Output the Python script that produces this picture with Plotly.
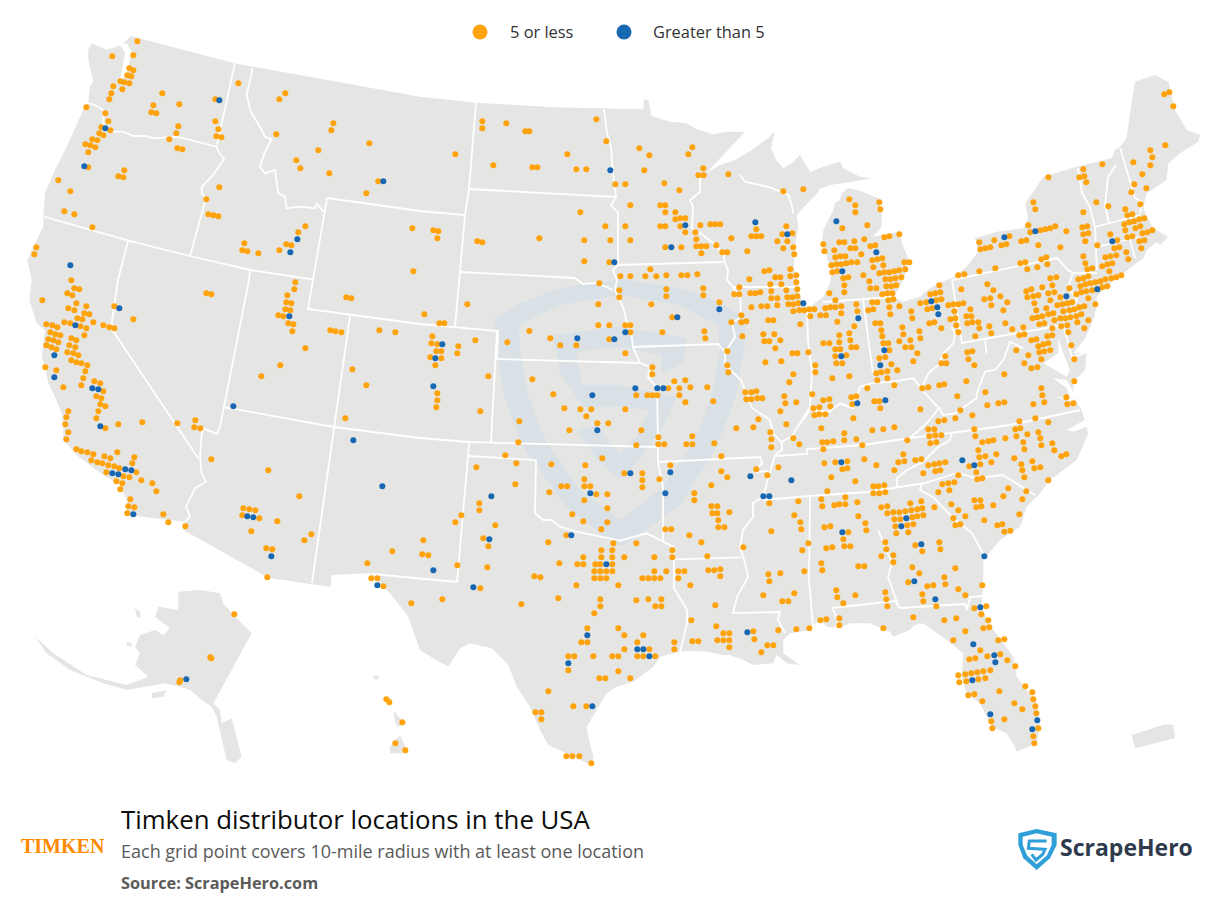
"""Timken distributor locations in the USA: dot map redrawn on a plain x/y canvas (picture pixels)."""
import plotly.graph_objects as go

COLOR_LAND = "#e5e5e4"
COLOR_MARK = "#d9e1e6"
COLOR_ORANGE = "#ffa30d"
COLOR_BLUE = "#1767b2"
COLOR_LOGO = "#2f9fd8"
FONT = "'Open Sans', Lato, sans-serif"

LEGEND_LABELS = ["5 or less", "Greater than 5"]
TITLE = "Timken distributor locations in the USA"
SUBTITLE = "Each grid point covers 10-mile radius with at least one location"
SOURCE = "Source: ScrapeHero.com"

# Grid points, read region by region from 3x views of the picture: (view x, view y).
NW_ORIGIN = (20, 30)
nw_orange = [(352,34),(277,79),(340,76),(328,115),(340,121),(322,136),(334,139),(301,154),(313,157),(328,160),(280,169),(307,178),(274,190),(268,208),(199,232),(256,250),(265,274),(244,292),(271,301),(238,310),(250,316),(217,328),(232,331),(196,343),(211,346),(226,352),(205,367),(205,412),(115,451),(151,484),(133,544),(163,553),(217,592),(49,652),(43,673),(427,190),(400,226),(394,247),(409,250),(478,223),(475,289),(469,310),(448,328),(472,355),(487,358),(313,421),(295,439),(310,442),(586,208),(586,274),(595,298),(589,319),(604,322),(655,160),(598,472),(559,508),(565,553),(580,556),(595,559),(673,640),(667,661),(682,664),(715,670),(778,661),(799,643),(814,646),(835,607),(856,589),(796,190),(778,208),(940,280),(934,301),(769,313),(895,361),(1048,340),(829,391),(841,415),(928,430),(1075,454),(1039,490),(1177,595),(1180,724)]
nw_blue = [(598,211),(256,295),(193,409),(1090,454),(832,628),(811,667),(151,706)]

NC_ORIGIN = (420, 90)
nc_orange = [(187,94),(259,100),(187,115),(316,124),(328,124),(529,88),(559,154),(106,193),(220,226),(337,232),(352,232),(442,193),(469,238),(499,238),(658,175),(688,196),(817,172),(805,193),(673,241),(850,235),(835,256),(851,256),(925,253),(586,283),(616,283),(733,280),(778,301),(1090,304),(1150,298),(631,346),(721,346),(736,346),(481,367),(736,367),(766,367),(766,388),(781,385),(796,385),(556,409),(616,409),(721,409),(736,409),(781,409),(796,427),(841,406),(871,403),(886,403),(901,403),(826,427),(829,448),(829,469),(844,469),(859,469),(844,490),(889,466),(907,487),(922,487),(934,445),(982,484),(1009,418),(994,439),(1009,439),(1024,439),(1099,409),(1087,433),(1117,430),(1072,454),(1102,454),(1090,475),(1120,472),(1123,493),(40,421),(55,424),(52,445),(172,454),(187,457),(358,445),(493,451),(571,451),(631,451),(736,472),(784,472),(493,514),(568,517),(691,538),(601,559),(631,559),(676,559),(709,559),(739,556),(784,556),(802,556),(832,553),(1111,538),(1033,544),(1048,541),(1129,556),(1111,559),(1066,562),(1081,562),(988,568),(1129,577),(1051,583),(1084,583),(538,580),(958,592),(1132,598),(1099,601),(598,601),(739,598),(850,595),(943,613),(958,613),(991,610),(1006,610),(1021,607),(1054,604),(1102,622),(1117,622),(1132,619),(1054,625),(1072,625),(598,622),(739,619),(850,616),(898,637),(1105,643),(1120,643),(1135,640),(1024,649),(1042,649),(1072,646),(994,652),(535,643),(694,643),(142,643),(1120,664),(1138,661),(1153,661),(1168,658),(1183,658),(1171,679),(964,676),(757,682),(13,673),(1045,691),(1060,691),(979,694),(964,697),(934,697),(58,700),(73,700),(1141,703),(535,706),(568,706),(616,706),(631,706)]
nc_blue = [(571,241),(796,406),(754,472),(1006,397),(1102,433),(583,517),(1150,640),(898,658),(772,682)]

NE_ORIGIN = (810, 70)
ne_orange = [(1063,73),(1078,67),(1090,109),(1066,226),(1021,241),(1027,262),(970,277),(1021,286),(877,283),(820,298),(808,322),(823,319),(829,337),(715,322),(997,313),(973,343),(1009,355),(964,367),(670,397),(859,397),(895,409),(991,403),(676,418),(820,427),(946,418),(952,436),(967,433),(1003,445),(988,448),(973,454),(958,457),(943,463),(991,469),(976,475),(946,481),(1027,481),(1012,487),(997,490),(967,499),(952,502),(901,493),(817,472),(832,469),(820,493),(835,490),(826,514),(769,484),(736,469),(721,475),(706,478),(691,481),(661,487),(655,466),(598,499),(553,511),(508,517),(649,511),(634,514),(589,523),(574,526),(541,532),(526,535),(511,538),(685,526),(751,532),(862,526),(922,511),(1003,511),(988,514),(928,532),(913,535),(994,535),(949,547),(919,556),(901,559),(886,562),(955,568),(820,559),(709,562),(694,568),(907,580),(892,583),(877,589),(826,580),(712,583),(646,577),(631,580),(847,595),(832,598),(682,592),(652,598),(556,595),(508,604),(463,613),(445,616),(898,604),(934,616),(919,622),(904,625),(886,628),(871,634),(856,637),(841,640),(826,643),(811,649),(835,619),(820,625),(805,628),(739,622),(721,625),(892,649),(877,652),(862,658),(847,661),(829,664),(814,667),(799,673),(532,643),(454,658),(550,661),(664,658),(649,664),(697,652),(727,646),(778,655),(733,667),(715,670),(670,679),(685,676),(652,682),(571,679),(523,688),(541,685),(592,697),(721,691),(751,682),(673,700),(544,706),(787,697),(772,700),(757,703),(742,706),(835,685),(856,703),(823,709),(808,712),(793,718),(778,721),(760,724),(730,730),(715,733),(697,739),(682,742),(667,745),(814,733),(799,739),(781,742),(766,745),(751,745),(709,715),(679,721),(580,721),(481,718),(469,739),(484,739),(433,724),(415,706),(430,703),(445,703),(460,700),(436,745),(421,748),(388,646),(361,673),(376,670),(391,667),(379,691),(394,688),(349,697),(331,700),(352,718),(367,715),(268,709),(238,712),(304,724),(241,733),(307,745),(250,688),(235,691),(202,697),(187,697),(190,718),(175,721),(142,724),(94,730),(139,703),(94,709),(76,712),(61,712),(46,715),(76,691),(58,670),(31,736),(48,736),(118,388),(136,406),(136,427),(208,397),(211,418),(97,475),(172,466),(163,508),(223,502),(238,499),(268,493),(40,523),(88,517),(103,517),(133,514),(181,529),(196,526),(121,535),(136,535),(43,544),(73,541),(154,553),(76,562),(91,559),(106,559),(217,565),(202,568),(187,571),(283,577),(298,577),(64,586),(79,583),(94,583),(109,580),(124,577),(142,577),(220,586),(190,592),(286,598),(67,607),(82,604),(208,610),(223,607),(238,607),(253,604),(268,601),(160,616),(100,625),(115,622),(226,628),(241,628),(256,625),(274,622),(178,634),(229,649),(244,649),(259,646),(103,646),(181,655),(199,655),(103,667),(217,673),(232,670),(247,670)]
ne_blue = [(79,454),(676,484),(583,502),(907,514),(199,547),(97,604),(862,658),(769,679),(364,694),(382,712),(385,733),(145,745)]

W_ORIGIN = (20, 280)
w_orange = [(154,1),(163,25),(178,28),(142,40),(157,46),(67,61),(559,40),(574,43),(826,7),(823,28),(802,46),(979,52),(994,55),(799,67),(814,70),(169,70),(199,79),(283,79),(145,85),(163,91),(796,88),(811,91),(193,100),(208,103),(775,106),(790,109),(172,115),(187,118),(340,118),(133,127),(151,130),(220,127),(79,133),(97,136),(112,142),(181,139),(199,145),(250,136),(268,142),(283,145),(805,130),(820,133),(91,157),(106,163),(121,166),(193,166),(817,154),(931,151),(946,154),(964,157),(1078,151),(1126,157),(85,178),(100,181),(154,175),(169,181),(115,187),(79,196),(94,202),(109,208),(148,196),(166,202),(142,217),(160,220),(175,226),(856,205),(154,241),(169,247),(184,250),(202,256),(781,256),(76,262),(109,271),(196,274),(997,268),(190,295),(724,289),(223,304),(241,310),(184,316),(1039,316),(130,322),(250,334),(229,349),(244,355),(241,373),(256,379),(235,394),(145,394),(139,412),(229,415),(976,415),(526,421),(136,433),(295,433),(367,427),(472,430),(523,442),(541,445),(256,445),(145,457),(139,478),(169,508),(184,514),(202,517),(220,523),(292,517),(253,529),(271,535),(343,532),(214,541),(232,547),(247,550),(337,550),(265,556),(283,559),(298,565),(574,538),(745,571),(259,577),(349,577),(310,589),(328,592),(364,601),(289,604),(307,610),(397,610),(301,628),(409,634),(838,649),(331,658),(325,679),(343,682),(670,685),(688,688),(706,691),(322,700),(430,703),(667,706),(718,715),(445,727),(772,724),(496,739)]
w_blue = [(298,85),(808,109),(166,136),(103,226),(103,292),(217,325),(235,328),(640,379),(241,439),(1000,481),(316,568),(334,571),(277,580),(295,583),(1087,619),(340,703),(682,709),(700,712)]

C_ORIGIN = (420, 330)
c_orange = [(37,19),(34,40),(52,43),(115,49),(166,31),(262,37),(328,3),(391,25),(421,46),(469,46),(568,28),(631,7),(727,7),(853,4),(856,25),(967,19),(1030,13),(1063,13),(1033,34),(1048,34),(1081,31),(1066,55),(1117,70),(1132,70),(1165,67),(49,64),(64,64),(112,70),(31,82),(64,85),(46,106),(616,70),(922,64),(1036,97),(1084,94),(922,106),(925,127),(697,112),(697,133),(1120,133),(205,139),(337,148),(763,154),(796,151),(1108,157),(745,175),(778,175),(811,172),(862,172),(976,187),(994,187),(1009,184),(400,193),(649,196),(682,196),(697,196),(712,196),(778,196),(52,190),(52,211),(49,232),(796,217),(880,214),(979,208),(994,208),(1012,205),(1027,205),(1093,199),(1096,220),(1129,217),(433,235),(481,238),(514,238),(616,238),(181,244),(1081,244),(499,259),(1015,268),(298,274),(532,280),(565,280),(1099,283),(448,301),(664,301),(949,295),(1000,292),(1051,307),(715,322),(817,319),(1054,328),(1120,325),(295,337),(715,343),(733,343),(799,343),(817,343),(883,340),(649,346),(1138,343),(1054,352),(256,376),(904,379),(547,385),(289,400),(394,403),(496,406),(751,406),(169,412),(1009,418),(1075,412),(904,424),(613,430),(667,430),(1042,436),(922,442),(493,448),(667,451),(718,448),(286,463),(424,469),(442,469),(493,469),(511,469),(667,472),(874,466),(388,487),(529,493),(562,493),(823,490),(493,511),(823,511),(178,520),(874,529),(892,529),(1135,514),(1048,520),(562,535),(178,541),(877,550),(892,550),(928,547),(457,553),(124,556),(1123,556),(490,574),(562,577),(895,571),(1141,577),(106,577),(226,586),(736,598),(754,598),(544,598),(895,592),(913,592),(1144,598)]
c_blue = [(67,43),(472,25),(583,28),(616,7),(46,85),(40,169),(517,196),(646,175),(712,175),(730,175),(532,301),(631,430),(751,427),(991,439),(1114,451),(736,490),(511,490),(214,499),(1030,499),(1048,499)]

SE_ORIGIN = (810, 320)
se_orange = [(82,5),(133,19),(196,10),(211,10),(277,22),(358,10),(373,7),(394,25),(439,16),(445,37),(472,10),(487,7),(505,7),(508,25),(538,19),(544,40),(586,10),(640,22),(607,28),(643,43),(628,46),(496,49),(688,13),(703,10),(733,1),(754,19),(772,16),(775,37),(802,7),(835,1),(823,25),(727,46),(712,49),(679,58),(664,61),(727,25),(214,31),(217,49),(88,46),(118,40),(121,61),(88,67),(40,70),(58,70),(220,70),(235,70),(238,91),(268,64),(280,43),(301,61),(328,34),(331,55),(286,82),(304,82),(322,100),(124,82),(139,82),(109,106),(76,88),(91,88),(76,109),(79,130),(97,130),(16,136),(16,157),(67,175),(118,169),(226,112),(208,115),(244,133),(232,154),(262,151),(214,157),(199,160),(202,181),(232,175),(310,124),(406,109),(394,130),(409,130),(472,97),(487,94),(475,118),(493,136),(619,91),(655,106),(643,130),(664,145),(682,142),(694,118),(688,97),(703,94),(721,91),(685,79),(700,73),(715,70),(784,76),(793,118),(583,163),(469,184),(403,193),(388,196),(355,202),(337,205),(253,196),(172,205),(793,184),(526,217),(442,229),(694,205),(697,226),(769,232),(703,247),(772,253),(790,250),(670,253),(583,247),(565,250),(532,256),(451,271),(331,268),(139,229),(124,232),(40,241),(58,238),(61,259),(127,253),(193,244),(208,244),(211,265),(10,265),(28,262),(13,286),(28,283),(46,283),(130,295),(7,223),(487,286),(436,295),(403,301),(385,304),(628,304),(676,295),(715,307),(34,325),(187,331),(220,328),(253,322),(355,328),(373,328),(616,328),(631,325),(493,328),(103,340),(358,349),(376,346),(394,346),(496,349),(619,349),(652,343),(685,337),(691,355),(139,358),(103,361),(37,367),(52,367),(70,364),(292,361),(517,367),(535,364),(550,361),(586,355),(640,367),(361,370),(379,367),(157,376),(727,370),(694,376),(40,388),(643,388),(733,391),(505,391),(769,403),(754,409),(280,403),(559,403),(613,415),(163,418),(508,412),(526,409),(334,418),(316,421),(283,424),(265,427),(667,424),(76,427),(112,424),(43,430),(544,427),(355,436),(373,433),(388,430),(406,427),(511,433),(478,439),(634,433),(199,436),(691,442),(673,445),(97,448),(112,445),(637,451),(253,451),(376,454),(391,451),(499,457),(340,460),(445,466),(643,472),(64,472),(136,484),(502,478),(517,475),(715,481),(433,487),(415,490),(397,493),(190,499),(205,499),(223,496),(595,505),(385,517),(418,511),(649,514),(52,514),(190,520),(208,520),(226,517),(580,529),(34,538),(106,532),(493,541),(511,541),(637,538),(334,544),(301,550),(142,547),(73,556),(88,553),(106,553),(37,559),(214,562),(232,559),(424,553),(550,556),(499,562),(514,559),(373,562),(337,565),(322,568),(304,571),(286,574),(268,577),(250,577),(232,580),(445,571),(340,586),(322,589),(307,592),(253,598),(271,598),(145,589),(628,583),(466,589),(430,595),(523,601),(166,610),(292,616),(310,613),(436,616),(451,613),(562,616),(577,613),(256,619),(43,622),(61,619)]
se_blue = [(94,109),(223,91),(211,136),(142,250),(226,241),(94,427),(457,421),(493,436),(289,595),(274,619)]

AK_ORIGIN = (20, 530)
ak_orange = [(694,4),(874,13),(853,31),(739,55),(757,58),(1042,100),(1117,64),(742,142),(1054,145),(1072,145),(1090,169),(1174,220),(643,253),(571,382),(574,385),(481,451),(478,457),(1099,508),(1108,517),(1147,577),(1126,640),(1156,661)]
ak_blue = [(754,79),(1072,166),(499,448)]

TX_ORIGIN = (420, 530)
tx_orange = [(190,25),(10,31),(205,49),(385,37),(439,16),(808,16),(844,37),(970,52),(1054,4),(1165,40),(1147,61),(7,73),(25,76),(649,40),(580,40),(544,61),(577,61),(757,61),(544,82),(577,82),(490,82),(613,82),(703,82),(757,82),(862,79),(112,106),(202,112),(418,100),(472,103),(490,103),(526,103),(541,103),(577,103),(523,124),(541,124),(559,124),(577,124),(703,124),(739,124),(775,124),(793,124),(865,121),(883,121),(901,118),(901,139),(1045,133),(1081,130),(1153,124),(1048,154),(343,139),(361,142),(523,145),(541,145),(559,145),(667,145),(685,145),(703,145),(721,145),(775,145),(181,175),(469,166),(595,166),(811,166),(1030,196),(1123,190),(67,208),(415,205),(541,208),(649,211),(685,208),(724,208),(1087,214),(1105,214),(304,223),(541,229),(706,229),(724,229),(886,226),(523,250),(814,271),(502,295),(595,295),(889,289),(1000,304),(1075,301),(1129,298),(1168,295),(910,310),(928,310),(613,316),(670,316),(1003,328),(484,337),(502,337),(652,337),(763,337),(817,334),(835,334),(892,331),(910,331),(928,331),(1042,346),(1060,346),(928,352),(613,358),(688,358),(763,358),(1024,367),(445,379),(463,379),(520,379),(577,379),(595,379),(652,379),(670,379),(706,379),(445,421),(595,424),(538,445),(556,445),(631,445),(385,484),(460,529),(499,529),(346,547),(364,547),(364,568),(439,679),(457,679),(478,679),(514,700)]
tx_blue = [(454,16),(208,28),(559,103),(40,121),(160,172),(502,316),(652,358),(670,358),(688,379),(445,400),(517,529),(982,307)]

FL_ORIGIN = (810, 530)
fl_orange = [(115,7),(169,1),(259,10),(295,7),(583,5),(601,2),(100,28),(226,37),(388,37),(49,55),(67,52),(103,49),(121,49),(229,58),(316,46),(391,58),(337,64),(214,79),(250,76),(250,97),(34,100),(37,121),(145,109),(163,109),(307,112),(436,115),(328,130),(295,157),(403,142),(406,163),(352,169),(370,166),(517,166),(445,178),(79,181),(226,187),(136,196),(337,193),(466,196),(82,202),(229,208),(340,214),(100,220),(232,229),(379,229),(493,235),(529,229),(514,253),(88,265),(31,271),(49,268),(310,262),(403,271),(439,265),(535,271),(88,286),(220,295),(520,295),(538,292),(466,304),(430,331),(565,331),(583,328),(511,361),(532,379),(571,373),(478,388),(496,385),(592,391),(616,409),(445,436),(466,433),(484,430),(502,427),(520,424),(541,421),(448,457),(469,454),(505,448),(526,445),(646,469),(568,484),(667,487),(475,496),(493,493),(670,508),(517,514),(613,520),(676,529),(637,538),(679,550),(583,568),(544,574),(547,595),(685,595),(670,619),(673,640)]
fl_blue = [(97,7),(334,43),(523,79),(313,154),(376,208),(511,232),(490,343),(553,376),(556,397),(487,451),(541,553),(682,571),(667,598)]


def view(points, origin):
    # 3x view coordinates back to picture pixels
    return [(origin[0] + x / 3, origin[1] + y / 3) for x, y in points]


# Map shapes, traced by hand in picture pixels / view coordinates
land_main = (
    view([(333,18),(644,100),(1200,200)], NW_ORIGIN)
    + view([(168,38),(400,52),(670,58),(672,28),(685,30),(695,78),(750,95),(800,100),(830,118),(880,133),(920,125),(975,125),(860,248)], NC_ORIGIN)
    + [(720,165),(735,160),(752,150),(768,138),(775,131),(771,148),(776,160),(783,168),(792,163),(800,155),(810,172)]
    + view([(40,290),(90,275),(100,295),(150,320),(185,325),(125,335),(60,345),(20,360),(0,350)], NE_ORIGIN)
    + view([(1200,300),(1130,375),(1135,410),(1125,470),(1122,530),(1135,600),(1145,630),(1165,655)], NC_ORIGIN)
    + view([(40,680),(60,640),(65,600),(35,520),(40,480),(70,420),(75,400),(90,390),(95,370),(115,355),(150,362),(205,385),(215,430),(215,470),(190,500),(215,495),(245,490),(265,485),(280,530),(295,565),(290,600),(275,640),(258,670),(250,682),(280,695),(330,680),(345,665),(385,640),(425,625),(470,590),(505,545),(495,505),(560,485),(640,475),(655,445),(645,400),(670,365),(700,320),(800,290),(905,265),(915,240),(930,230),(950,205),(960,130),(975,35),(1035,15),(1075,35),(1095,120),(1130,180),(1170,195),(1165,215),(1110,250),(1075,280),(1070,330),(1010,370),(1000,410),(1010,440),(1030,475),(1075,500),(1050,525),(1040,515),(1010,540),(1000,565),(960,595),(900,640),(880,660),(860,680),(860,710),(850,750)], NE_ORIGIN)
    + view([(825,55),(790,100),(830,100),(825,150),(790,185),(790,230),(815,270),(835,340),(800,420),(720,480),(690,520),(650,560),(630,620),(570,660),(520,720)], SE_ORIGIN)
    + view([(520,130),(515,230),(535,280),(610,380),(620,440),(680,520),(690,590),(680,640),(620,665),(615,650),(590,610),(545,590),(510,520),(470,490),(455,440),(460,370),(410,330),(340,280),(315,285),(300,300),(250,320),(240,305),(180,280),(120,280),(85,295),(50,290),(30,270),(0,290)], FL_ORIGIN)
    + view([(1170,300),(1110,310),(1090,330),(1090,370),(1140,405),(1100,400),(1070,375),(1060,400),(1000,405),(970,390),(930,375),(910,375),(860,365),(810,362),(780,365),(720,380),(700,410),(640,455),(590,470),(560,490),(530,540),(500,590),(505,620),(520,680),(515,705),(440,670),(385,645),(360,600),(330,530),(290,470),(265,405),(215,355),(150,340),(120,355),(85,410),(40,385),(0,360)], TX_ORIGIN)
    + view([(1165,260),(1110,190),(1050,130),(935,135),(932,170),(870,162),(745,143),(490,0)], AK_ORIGIN)
    + view([(495,725),(320,705),(322,665),(300,615),(250,585),(215,560),(170,525),(130,480),(130,440),(125,400),(100,340),(85,310),(75,260),(65,230),(70,190),(75,150),(50,130),(28,60),(35,0)], W_ORIGIN)
    + view([(22,690),(40,650),(70,590),(70,555),(75,490),(105,420),(140,350),(190,240),(205,215),(210,170),(220,155),(205,90),(205,60),(215,40),(260,60),(305,45)], NW_ORIGIN)
)
land_alaska = view([(475,185),(540,180),(600,190),(610,220),(640,255),(695,310),(580,520),(600,540),(605,580),(635,565),(665,680),(645,700),(620,690),(605,620),(590,560),(575,530),(545,510),(510,480),(480,470),(435,460),(380,470),(320,480),(250,460),(200,440),(150,420),(80,370),(45,320),(100,370),(200,435),(320,465),(385,440),(345,405),(360,370),(345,350),(360,315),(405,300),(430,315),(450,295),(405,260),(415,230),(475,240)], AK_ORIGIN)
land_islands = [
    view([(395,490),(440,480),(430,500),(395,505)], AK_ORIGIN),
    view([(345,235),(360,245),(362,265),(350,260)], AK_ORIGIN),
    view([(318,335),(335,338),(335,350),(322,348)], AK_ORIGIN),
    view([(1140,615),(1165,670),(1110,670),(1110,650)], AK_ORIGIN),
    view([(1120,540),(1155,585),(1130,590),(1125,570)], AK_ORIGIN),
    view([(1095,500),(1115,505),(1110,522),(1095,515)], AK_ORIGIN),
    view([(1060,435),(1080,440),(1070,450),(1060,445)], AK_ORIGIN),
    view([(965,615),(1065,583),(1090,585),(1095,625),(1050,635),(975,655)], FL_ORIGIN),
]
water = [
    view([(300,45),(320,40),(335,65),(325,110),(320,135),(300,150),(308,110),(315,70)], NW_ORIGIN),
    view([(745,55),(745,100),(700,130),(770,170),(780,150),(760,100)], SE_ORIGIN),
    view([(730,175),(770,205),(780,235),(735,230),(790,245),(795,225),(770,180)], SE_ORIGIN),
    view([(770,330),(825,300),(830,320),(790,335)], SE_ORIGIN),
]

borders = [
    [(235,63),(217,145)],
    view([(200,218),(225,225),(250,240),(250,290),(270,305),(310,305),(340,318),(375,318),(405,325),(470,320),(590,350),(595,365),(612,388),(575,440),(545,470),(545,490),(558,505),(510,678)], NW_ORIGIN),
    view([(72,560),(325,632),(510,678),(690,720),(878,748)], NW_ORIGIN),
    [(313,280),(308,309),(420,324),(455,327),(498,331),(497,359),(640,363)],
    [(327,198),(420,211),(465,215),(455,327)],
    [(327,198),(313,280)],
    [(350,316),(334,427),(319,530),(312,583)],
    [(223,407),(334,427),(420,438),(469,442),(658,447)],
    [(497,330),(491,442)],
    [(469,442),(468,456),(457,582),(372,574)],
    [(468,456),(536,460),(535,513)],
    view([(344,550),(370,570),(395,570),(420,590),(470,605),(540,620),(600,632),(680,610),(730,635),(760,650),(762,688),(965,682)], C_ORIGIN),
    [(250,270),(249,280),(220,427)],
    view([(600,440),(590,462),(575,455),(550,445),(545,460),(540,530),(545,580),(558,605),(525,625),(505,665),(498,680),(510,710),(495,725)], W_ORIGIN),
    [(128,241),(118,280),(111,328),(198,458)],
    view([(698,115),(680,195),(692,245),(720,290),(735,320),(755,328),(735,365),(720,410),(735,430),(765,420),(775,490),(795,500),(800,535),(840,530),(885,535),(890,520),(910,545)], NW_ORIGIN),
    [(476,103),(469,189),(465,215)],
    [(469,189),(616,197)],
    [(604,109),(607,133),(611,147),(613,173),(616,197),(611,205),(618,213),(618,265),(723,262)],
    [(461,272),(575,278),(583,284),(597,283),(613,290)],
    [(618,265),(613,270),(617,280),(615,290),(623,307),(627,323),(631,330),(633,347),(640,363),(650,367),(648,377),(657,388),(658,447),(658,463),(663,487),(663,542)],
    [(632,347),(718,344),(725,352)],
    [(700,177),(700,192),(690,200),(693,207),(692,228),(700,233),(713,243),(723,253),(725,263),(728,270),(727,280),(733,287),(797,287)],
    [(733,287),(740,297),(741,317),(732,323),(735,337),(725,352),(725,365),(741,380),(745,390),(752,408),(770,420),(773,433),(782,443),(782,450),(775,455),(767,483),(763,497),(753,503),(753,517),(743,530),(740,547),(745,563),(748,577),(737,597),(733,613),(780,612),(778,620),(785,633)],
    [(658,462),(760,457),(762,463),(755,472),(768,471)],
    [(674,559),(674,588),(687,610),(687,623),(683,640),(680,652)],
    [(810,497),(809,580),(813,627)],
    [(763,500),(810,496),(868,492),(925,483),(957,473),(976,478),(1003,475),(1035,495)],
    [(922,483),(920,490),(933,497),(953,518),(972,533),(985,557)],
    [(897,487),(897,478),(907,470),(923,462),(937,448),(950,440),(952,433)],
    [(775,456),(807,454),(807,449),(863,445),(910,438),(951,433),(1010,425),(1080,410)],
    [(910,438),(927,423),(939,408)],
    view([(335,210),(388,265),(400,285),(435,280),(500,235),(500,220),(525,155),(555,150),(580,120),(600,65),(640,85)], SE_ORIGIN),
    view([(1085,335),(1115,320),(1130,295)], C_ORIGIN) + view([(0,270),(60,275),(90,250),(130,265),(150,200),(185,190),(245,185),(310,175),(335,205),(355,160),(385,135),(400,100),(430,70),(435,40),(425,20)], SE_ORIGIN),
    [(952,280),(962,343),(1063,325),(1072,357),(1085,353)],
    view([(530,100),(525,60)], SE_ORIGIN),
    [(807,310),(808,340),(812,373),(810,407),(797,428)],
    [(863,300),(873,373)],
    [(823,302),(863,299),(893,297)],
    [(952,280),(1057,258),(1068,270),(1073,273),(1097,273)],
    [(1073,273),(1068,287),(1077,300),(1073,307),(1065,320)],
    [(1078,168),(1082,193),(1090,207),(1095,227),(1097,270)],
    [(1116,165),(1108,177),(1105,205),(1109,223)],
    [(1095,227),(1140,215)],
    [(1120,148),(1135,198),(1142,202),(1140,213)],
    [(1097,247),(1138,237)],
    [(1130,240),(1135,258)],
    [(878,530),(892,563),(888,577),(899,608)],
    [(832,608),(895,601),(900,608),(965,604),(967,610),(970,597),(982,596)],
    [(832,608),(838,620),(835,628)],
    view([(960,255),(975,275),(1050,292),(1105,315),(1115,345),(1120,370)], NC_ORIGIN),
]

# Faint shield watermark behind the dots
mark_outer = [(495,318),(520,303),(560,288),(620,279),(680,288),(720,303),(745,318),(745,345),(735,400),(715,450),(680,505),(625,545),(615,545),(565,505),(525,450),(505,400),(495,345)]
mark_inner = [(519,325),(560,305),(620,295),(680,305),(718,325),(720,350),(712,395),(695,440),(660,490),(620,520),(580,490),(545,440),(528,395),(520,350)]
mark_s = view([(400,15),(600,-10),(800,25),(790,100),(725,130),(725,75),(600,50),(470,65),(485,165),(600,165),(770,200),(740,270),(650,400),(600,445),(540,400),(470,300),(530,285),(600,375),(650,320),(690,240),(600,230),(490,230),(420,130)], C_ORIGIN)

# ScrapeHero logo
logo_outer = view([(55,55),(110,42),(170,55),(170,90),(150,130),(110,165),(70,130),(55,90)], (1000, 815))
logo_inner = view([(68,65),(110,55),(155,65),(155,90),(140,122),(110,148),(82,122),(68,90)], (1000, 815))
logo_s = view([(140,78),(88,78),(85,100),(135,103),(128,118),(108,135),(95,118)], (1000, 815))


def xy(paths):
    # join several paths into one trace, split by gaps
    xs, ys = [], []
    for path in paths:
        xs += [p[0] for p in path] + [None]
        ys += [p[1] for p in path] + [None]
    return xs, ys


def add_fill(fig, paths, color):
    x, y = xy(paths)
    fig.add_trace(go.Scatter(x=x, y=y, mode="lines", fill="toself", fillcolor=color,
                             line=dict(width=0, color=color), hoverinfo="skip", showlegend=False))


orange = (view(nw_orange, NW_ORIGIN) + view(nc_orange, NC_ORIGIN) + view(ne_orange, NE_ORIGIN)
          + view(w_orange, W_ORIGIN) + view(c_orange, C_ORIGIN) + view(se_orange, SE_ORIGIN)
          + view(ak_orange, AK_ORIGIN) + view(tx_orange, TX_ORIGIN) + view(fl_orange, FL_ORIGIN))
blue = (view(nw_blue, NW_ORIGIN) + view(nc_blue, NC_ORIGIN) + view(ne_blue, NE_ORIGIN)
        + view(w_blue, W_ORIGIN) + view(c_blue, C_ORIGIN) + view(se_blue, SE_ORIGIN)
        + view(ak_blue, AK_ORIGIN) + view(tx_blue, TX_ORIGIN) + view(fl_blue, FL_ORIGIN))

fig = go.Figure()
add_fill(fig, [land_main, land_alaska] + land_islands, COLOR_LAND)
add_fill(fig, water, "#ffffff")
add_fill(fig, [mark_outer], COLOR_MARK)
add_fill(fig, [mark_inner], COLOR_LAND)
add_fill(fig, [mark_s], COLOR_MARK)

bx, by = xy(borders)
fig.add_trace(go.Scatter(x=bx, y=by, mode="lines", line=dict(color="#ffffff", width=1.8),
                         hoverinfo="skip", showlegend=False))

fig.add_trace(go.Scatter(x=[p[0] for p in orange], y=[p[1] for p in orange], mode="markers",
                         name=LEGEND_LABELS[0], marker=dict(color=COLOR_ORANGE, size=6),
                         hoverinfo="skip", showlegend=False))
fig.add_trace(go.Scatter(x=[p[0] for p in blue], y=[p[1] for p in blue], mode="markers",
                         name=LEGEND_LABELS[1], marker=dict(color=COLOR_BLUE, size=6),
                         hoverinfo="skip", showlegend=False))

# legend keys
fig.add_trace(go.Scatter(x=[480, 624], y=[32, 32], mode="markers",
                         marker=dict(color=[COLOR_ORANGE, COLOR_BLUE], size=15),
                         hoverinfo="skip", showlegend=False))

add_fill(fig, [logo_outer], COLOR_LOGO)
add_fill(fig, [logo_inner], "#ffffff")
lx, ly = xy([logo_s])
fig.add_trace(go.Scatter(x=lx, y=ly, mode="lines", line=dict(color=COLOR_LOGO, width=3),
                         hoverinfo="skip", showlegend=False))


def label(text, x, y, size, color, family=FONT, weight="normal"):
    fig.add_annotation(x=x, y=y, xref="x", yref="y", text=text, showarrow=False,
                       xanchor="left", yanchor="middle", align="left",
                       font=dict(family=family, size=size, color=color, weight=weight))


label(LEGEND_LABELS[0], 508, 31, 16.4, "#333333")
label(LEGEND_LABELS[1], 651, 31, 16.4, "#333333")
label(TITLE, 119, 819, 25.8, "#0c0c0c", weight=500)
label(SUBTITLE, 119, 851, 18, "#5a5a5a")
label(SOURCE, 119, 883, 16.3, "#5a5a5a", weight="bold")
label("TIMKEN", 19, 846, 20, "#ff8a00", family="'Liberation Serif', serif", weight="bold")
label("ScrapeHero", 1058, 847, 23, "#2f3b4c", weight="bold")

fig.update_layout(
    width=1224, height=902,
    margin=dict(l=0, r=0, t=0, b=0),
    paper_bgcolor="#ffffff", plot_bgcolor="#ffffff",
    showlegend=False,
    xaxis=dict(range=[0, 1224], visible=False, fixedrange=True),
    yaxis=dict(range=[902, 0], visible=False, fixedrange=True),
)

fig.write_html("out.html", config={"displayModeBar": False},
               post_script="document.body.style.margin='0';")
